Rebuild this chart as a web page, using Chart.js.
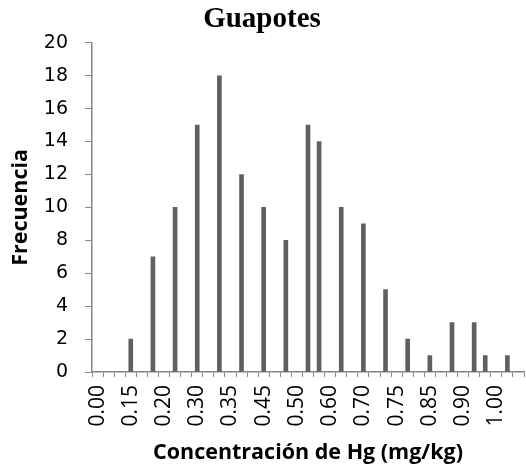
<html lang="es">
<head>
    <title>Guapotes</title>
    <style>
        body { margin: 0; background: #fff; }
        #wrap { width: 526px; height: 472px; }
    </style>
</head>
<body>
    <div id="wrap"><canvas id="histChart" width="526" height="472"></canvas></div>

    <script src="https://cdn.jsdelivr.net/npm/chart.js"></script>
    <script>
        // tick labels shown on the x axis, one every third bin
        const tickLabels = ['0.00', '0.15', '0.20', '0.30', '0.35', '0.45', '0.50',
                            '0.60', '0.70', '0.75', '0.85', '0.90', '1.00'];
        // frequency per bin (39 bins)
        const frequencies = [0, 0, 0, 2, 0, 7, 0, 10, 0, 15, 0, 18, 0, 12, 0, 10, 0, 8, 0, 15,
                             14, 0, 10, 0, 9, 0, 5, 0, 2, 0, 1, 0, 3, 0, 3, 1, 0, 1, 0];
        const yTicks = [0, 2, 4, 6, 8, 10, 12, 14, 16, 18, 20];

        // bin labels: a visible label every third bin, blank otherwise
        const categories = frequencies.map(function (v, i) {
            return i % 3 === 0 ? tickLabels[i / 3] : '';
        });

        const axisGrey = '#868686';
        const axisTitleFont = {family: 'Open Sans', size: 21.5, weight: 'bold'};

        const ctx = document.getElementById('histChart');
        const histChart = new Chart(ctx, {
            type: 'bar',
            data: {
                labels: categories,
                datasets: [{
                    label: 'Frecuencia',
                    data: frequencies,
                    backgroundColor: '#606060',
                    barThickness: 4
                }]
            },
            options: {
                responsive: false,
                animation: false,
                layout: {padding: {left: 0, right: 2, top: 0, bottom: 0}},
                plugins: {
                    legend: {display: false},
                    tooltip: {enabled: false},
                    title: {
                        display: true,
                        text: 'Guapotes',
                        color: '#000',
                        font: {family: 'Liberation Serif', size: 29, weight: 'bold'},
                        padding: {top: 2, bottom: 6}
                    }
                },
                scales: {
                    x: {
                        grid: {display: true, drawOnChartArea: false, drawTicks: true,
                               tickLength: 5, color: axisGrey, offset: true},
                        border: {color: axisGrey, width: 1.5},
                        ticks: {autoSkip: false, maxRotation: 90, minRotation: 90,
                                color: '#000', font: {family: 'Open Sans', size: 21}, padding: 8},
                        title: {display: true, text: 'Concentración de Hg (mg/kg)',
                                color: '#000', font: axisTitleFont,
                                padding: {top: 4, bottom: 6}},
                        afterFit: function (scale) {
                            scale.height = 100;
                            scale.paddingLeft = 0;
                            scale.paddingRight = 0;
                        }
                    },
                    y: {
                        min: 0,
                        max: 20,
                        afterBuildTicks: function (scale) {
                            scale.ticks = yTicks.map(function (v) { return {value: v}; });
                        },
                        grid: {display: true, drawOnChartArea: false, drawTicks: true,
                               tickLength: 7, color: axisGrey},
                        border: {color: axisGrey, width: 1.5},
                        ticks: {color: '#000', font: {family: 'DejaVu Sans', size: 19}, padding: 17},
                        title: {display: true, text: 'Frecuencia',
                                color: '#000', font: axisTitleFont,
                                padding: {top: 8, bottom: 2}},
                        afterFit: function (scale) {
                            scale.width = 92;
                            scale.paddingTop = 0;
                            scale.paddingBottom = 0;
                        }
                    }
                }
            }
        });
    </script>
</body>
</html>
